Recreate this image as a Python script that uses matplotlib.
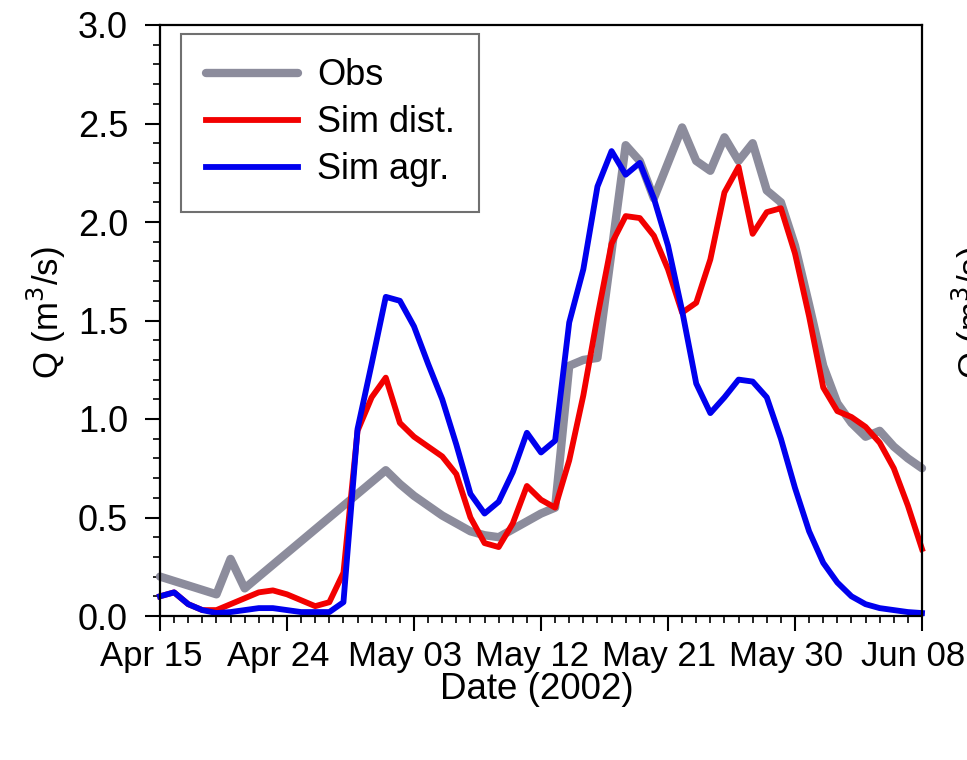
import matplotlib
matplotlib.use("Agg")
import matplotlib.pyplot as plt
import matplotlib.dates as mdates
import matplotlib.transforms as mtransforms
from matplotlib.ticker import MultipleLocator, FormatStrFormatter
import pandas as pd

plt.rcParams['font.family'] = ['Liberation Sans', 'DejaVu Sans']

start = pd.Timestamp('2002-04-15')
end = pd.Timestamp('2002-06-08')

# observed discharge (day offset from Apr 15, m3/s) - gaps where no measurement
obs_day = [0, 4, 5, 6, 16, 17, 18, 19, 20, 21, 22, 23, 24, 25, 26, 27, 28,
           29, 30, 31, 33, 34, 35, 36, 37, 38, 39, 40, 41, 42, 43, 44, 45,
           46, 47, 48, 49, 50, 51, 52, 53, 54]
obs_q = [0.20, 0.11, 0.29, 0.14, 0.74, 0.67, 0.61, 0.56, 0.51, 0.47, 0.43,
         0.41, 0.40, 0.44, 0.48, 0.52, 0.55, 1.27, 1.30, 1.31, 2.39, 2.31,
         2.12, 2.30, 2.48, 2.31, 2.26, 2.43, 2.31, 2.40, 2.16, 2.10, 1.88,
         1.58, 1.27, 1.08, 0.98, 0.91, 0.94, 0.86, 0.80, 0.75]

# simulated, daily from Apr 15 to Jun 08
sim_dist = [0.10, 0.12, 0.06, 0.03, 0.03, 0.06, 0.09, 0.12, 0.13, 0.11,
            0.08, 0.05, 0.07, 0.22, 0.94, 1.11, 1.21, 0.98, 0.91, 0.86,
            0.81, 0.72, 0.50, 0.37, 0.35, 0.47, 0.66, 0.59, 0.55, 0.79,
            1.12, 1.52, 1.89, 2.03, 2.02, 1.93, 1.76, 1.54, 1.59, 1.81,
            2.15, 2.28, 1.94, 2.05, 2.07, 1.84, 1.52, 1.16, 1.04, 1.01,
            0.96, 0.88, 0.75, 0.56, 0.34]
sim_agr = [0.10, 0.12, 0.06, 0.03, 0.015, 0.02, 0.03, 0.04, 0.04, 0.03,
           0.02, 0.02, 0.02, 0.07, 0.95, 1.28, 1.62, 1.60, 1.47, 1.28,
           1.10, 0.87, 0.62, 0.52, 0.58, 0.73, 0.93, 0.83, 0.89, 1.49,
           1.76, 2.18, 2.36, 2.24, 2.30, 2.12, 1.88, 1.55, 1.18, 1.03,
           1.11, 1.20, 1.19, 1.11, 0.90, 0.65, 0.43, 0.27, 0.17, 0.10,
           0.06, 0.04, 0.03, 0.02, 0.015]

obs_dates = start + pd.to_timedelta(obs_day, unit='D')
sim_dates = pd.date_range(start, periods=len(sim_dist), freq='D')

fig = plt.figure(figsize=(9.67, 7.6), dpi=100)
ax = fig.add_axes([160 / 967, 1 - 616 / 760, 762 / 967, 591 / 760])

ax.plot(obs_dates, obs_q, color='#8c8c9c', lw=6, label='Obs',
        solid_joinstyle='round', solid_capstyle='round', clip_on=False)
ax.plot(sim_dates, sim_dist, color='#f20000', lw=4.2, label='Sim dist.',
        solid_joinstyle='round', clip_on=False)
ax.plot(sim_dates, sim_agr, color='#0000ee', lw=4.2, label='Sim agr.',
        solid_joinstyle='round', clip_on=False)

ax.set_xlim(start, end)
ax.set_ylim(0, 3.0)

ax.set_xticks(pd.date_range(start, end, freq='9D'))
ax.xaxis.set_major_formatter(mdates.DateFormatter('%b %d'))
ax.xaxis.set_minor_locator(mdates.DayLocator())
ax.yaxis.set_major_locator(MultipleLocator(0.5))
ax.yaxis.set_minor_locator(MultipleLocator(0.1))
ax.yaxis.set_major_formatter(FormatStrFormatter('%.1f'))

ax.tick_params(which='major', direction='out', length=11, width=1.5,
               color='black')
ax.tick_params(which='minor', direction='out', length=5, width=1.2)
ax.tick_params(axis='x', which='major', pad=6, labelsize=25)
ax.tick_params(axis='y', which='major', pad=12, labelsize=26)
for sp in ax.spines.values():
    sp.set_linewidth(1.6)

shift = mtransforms.ScaledTranslation(-9 / 100, 0, fig.dpi_scale_trans)
for lab in ax.get_xticklabels():
    lab.set_transform(lab.get_transform() + shift)

ax.set_xlabel('Date (2002)', fontsize=26.5)
ax.xaxis.set_label_coords(0.495, -0.125)
ax.xaxis.label.set_va('center')
ax.set_ylabel('Q (m$^3$/s)', fontsize=25)
ax.yaxis.set_label_coords(-0.1496, 0.513)
ax.yaxis.label.set_va('center')

# label of the neighbouring panel, cut by the figure edge
fig.text((46 + 925) / 967, 1 - 313 / 760, 'Q (m$^3$/s)', fontsize=25,
         rotation=90, ha='center', va='center')

leg = ax.legend(loc='upper left', bbox_to_anchor=(0.0276, 0.985),
                borderaxespad=0, fancybox=False, edgecolor='#707070',
                fontsize=26, handlelength=2.55, handletextpad=0.53,
                labelspacing=0.33, borderpad=0.68, framealpha=1)
leg.get_frame().set_linewidth(1.5)

fig.savefig('out.png', dpi=100)
